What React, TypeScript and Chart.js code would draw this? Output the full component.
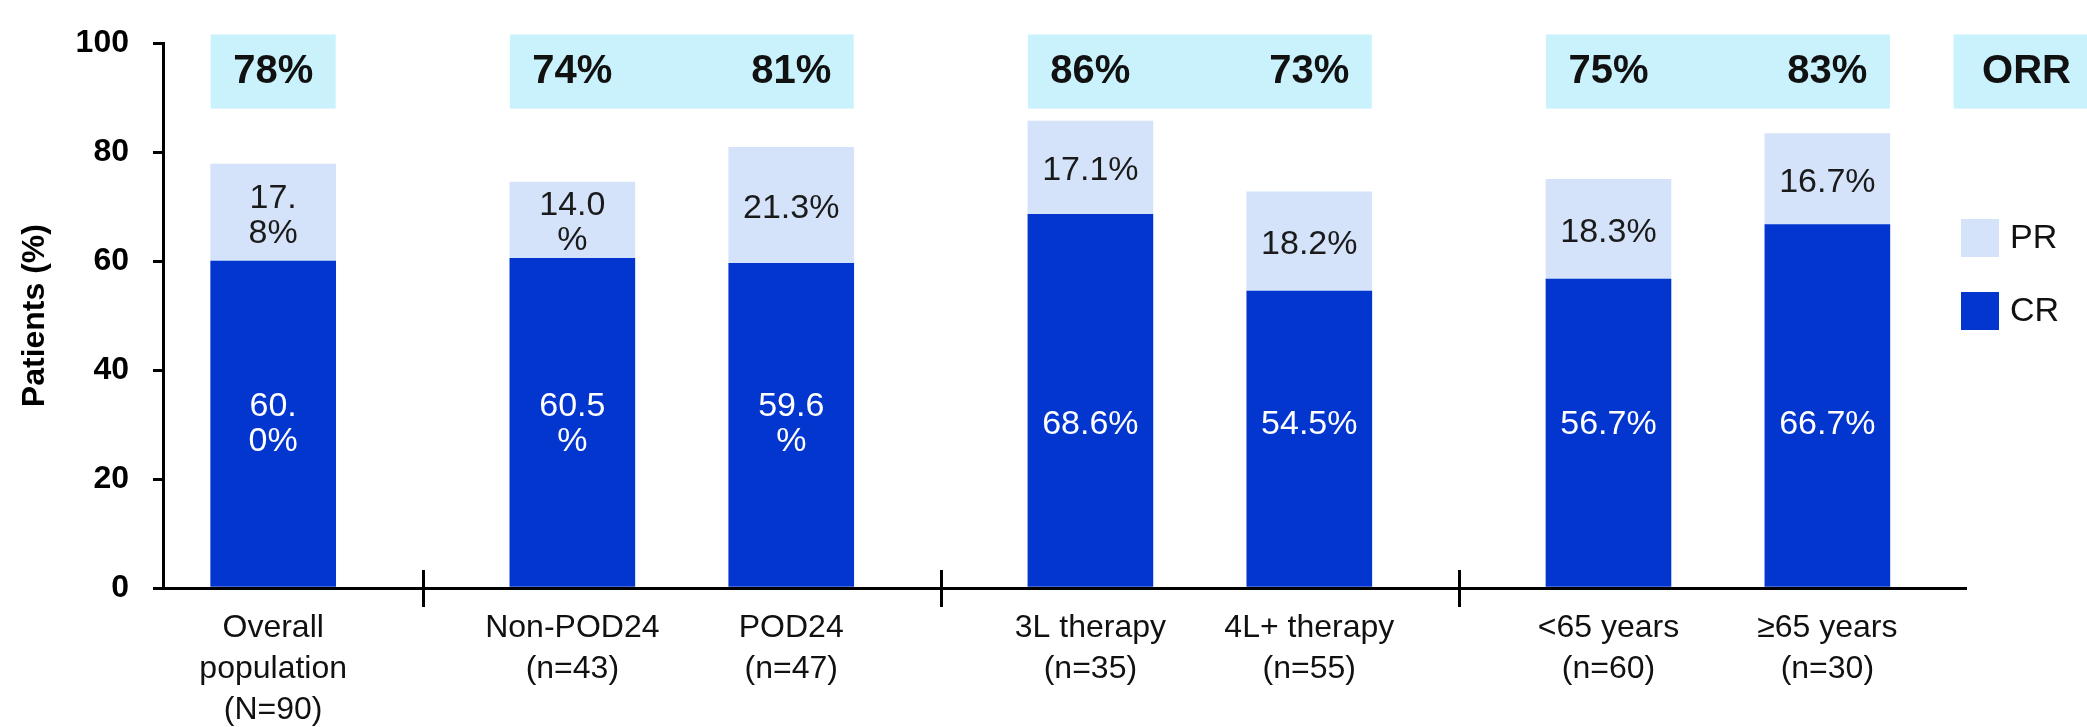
import React, { useEffect, useRef } from "react";
import { Chart, registerables } from "chart.js";

Chart.register(...registerables);

// ---------------- DATA ----------------
const categories: string[][] = [
  ["Overall", "population", "(N=90)"],
  ["Non-POD24", "(n=43)"],
  ["POD24", "(n=47)"],
  ["3L therapy", "(n=35)"],
  ["4L+ therapy", "(n=55)"],
  ["<65 years", "(n=60)"],
  ["≥65 years", "(n=30)"],
];
const groups: number[][] = [[0], [1, 2], [3, 4], [5, 6]];
const crValues = [60.0, 60.5, 59.6, 68.6, 54.5, 56.7, 66.7];
const prValues = [17.8, 14.0, 21.3, 17.1, 18.2, 18.3, 16.7];
const crLabels = ["60.\n0%", "60.5\n%", "59.6\n%", "68.6%", "54.5%", "56.7%", "66.7%"];
const prLabels = ["17.\n8%", "14.0\n%", "21.3%", "17.1%", "18.2%", "18.3%", "16.7%"];
const orrLabels = ["78%", "74%", "81%", "86%", "73%", "75%", "83%"];
const orrHeader = "ORR";
const yTitle = "Patients (%)";
const seriesNames = { cr: "CR", pr: "PR" };

// ---------------- LAYOUT / STYLE ----------------
const W = 2087;
const H = 727;
const FONT = "'Liberation Sans', Arial, Helvetica, sans-serif";
const CR_COLOR = "#0336cf";
const PR_COLOR = "#d4e3fa";
const ORR_BOX = "#c9f2fc";
const IN_GROUP_STEP = 3;
const GROUP_STEP = 4.1;
const X_MIN_PAD = 1.51;
const X_MAX_PAD = 1.9;
const BAR_W = 125;
const ORR_BOX_TOP = 101.6;
const ORR_BOX_BOTTOM = 88.0;
const CR_LABEL_AT = 30;

function groupOf(i: number) {
  return groups.findIndex((g) => g.includes(i));
}
const positions: number[] = [];
categories.forEach((_, i) => {
  if (i === 0) positions.push(0);
  else positions.push(positions[i - 1] + (groupOf(i) === groupOf(i - 1) ? IN_GROUP_STEP : GROUP_STEP));
});
const X_MIN = -X_MIN_PAD;
const X_MAX = positions[positions.length - 1] + X_MAX_PAD;
const ORR_HEADER_X = X_MAX + 0.83;

function drawLines(ctx: CanvasRenderingContext2D, text: string, x: number, cy: number, lh: number) {
  const lines = text.split("\n");
  const start = cy - ((lines.length - 1) * lh) / 2;
  lines.forEach((ln, k) => ctx.fillText(ln, x, start + k * lh));
}

const overlayPlugin = {
  id: "overlay",
  afterDatasetsDraw(chart: any) {
    const ctx: CanvasRenderingContext2D = chart.ctx;
    const xs = chart.scales.x;
    const ys = chart.scales.y;
    const crMeta = chart.getDatasetMeta(0);
    const prMeta = chart.getDatasetMeta(1);
    const area = chart.chartArea;
    ctx.save();

    // ORR boxes
    const bTop = ys.getPixelForValue(ORR_BOX_TOP);
    const bBot = ys.getPixelForValue(ORR_BOX_BOTTOM);
    const bMid = (bTop + bBot) / 2;
    ctx.fillStyle = ORR_BOX;
    groups.forEach((g) => {
      let l = Infinity;
      let r = -Infinity;
      g.forEach((i) => {
        const el = crMeta.data[i];
        l = Math.min(l, el.x - el.width / 2);
        r = Math.max(r, el.x + el.width / 2);
      });
      ctx.fillRect(l, bTop, r - l, bBot - bTop);
    });
    const hx = xs.getPixelForValue(ORR_HEADER_X);
    const hl = xs.getPixelForValue(ORR_HEADER_X - 1);
    ctx.fillRect(hl, bTop, chart.width - hl, bBot - bTop);

    ctx.fillStyle = "#111";
    ctx.font = `bold 40px ${FONT}`;
    ctx.textAlign = "center";
    ctx.textBaseline = "middle";
    orrLabels.forEach((t, i) => {
      ctx.fillText(t, crMeta.data[i].x, bMid);
    });
    ctx.fillText(orrHeader, hx, bMid);

    // bar labels
    ctx.font = `34px ${FONT}`;
    prLabels.forEach((t, i) => {
      const el = prMeta.data[i];
      ctx.fillStyle = "#1a1a1a";
      drawLines(ctx, t, el.x, (el.y + el.base) / 2 + 3, 35);
    });
    crLabels.forEach((t, i) => {
      const el = crMeta.data[i];
      ctx.fillStyle = "#ffffff";
      drawLines(ctx, t, el.x, ys.getPixelForValue(CR_LABEL_AT), 35);
    });

    // legend
    const items = [
      { name: seriesNames.pr, color: PR_COLOR },
      { name: seriesNames.cr, color: CR_COLOR },
    ];
    const lx = area.right - 5;
    ctx.font = `34px ${FONT}`;
    ctx.textAlign = "left";
    items.forEach((it, k) => {
      const cy = 238 + k * 73;
      ctx.fillStyle = it.color;
      ctx.fillRect(lx, cy - 19, 38, 38);
      ctx.fillStyle = "#111";
      ctx.fillText(it.name, lx + 49, cy + 1);
    });

    // group separators on the x axis
    ctx.strokeStyle = "#000";
    ctx.lineWidth = 3;
    for (let gi = 1; gi < groups.length; gi++) {
      const a = positions[groups[gi - 1][groups[gi - 1].length - 1]];
      const b = positions[groups[gi][0]];
      const px = Math.round(xs.getPixelForValue((a + b) / 2)) + 0.5;
      ctx.beginPath();
      ctx.moveTo(px, area.bottom - 18);
      ctx.lineTo(px, area.bottom + 19);
      ctx.stroke();
    }
    ctx.restore();
  },
};

export default function App() {
  const ref = useRef<HTMLCanvasElement | null>(null);
  useEffect(() => {
    document.body.style.margin = "0";
    const canvas = ref.current;
    if (!canvas) return;
    const chart = new Chart(canvas, {
      type: "bar",
      data: {
        datasets: [
          {
            label: seriesNames.cr,
            data: positions.map((x, i) => ({ x, y: crValues[i] })),
            backgroundColor: CR_COLOR,
            barThickness: BAR_W,
            borderWidth: 0,
          },
          {
            label: seriesNames.pr,
            data: positions.map((x, i) => ({ x, y: prValues[i] })),
            backgroundColor: PR_COLOR,
            barThickness: BAR_W,
            borderWidth: 0,
          },
        ],
      },
      options: {
        responsive: false,
        animation: false,
        devicePixelRatio: 1,
        layout: { padding: { top: 24, right: W - 1966, left: 0, bottom: 0 } },
        plugins: {
          legend: { display: false },
          tooltip: { enabled: false },
        },
        scales: {
          x: {
            type: "linear",
            offset: false,
            min: X_MIN,
            max: X_MAX,
            stacked: true,
            grid: { display: false, drawTicks: false, offset: false },
            border: { display: true, color: "#000", width: 3 },
            afterBuildTicks: (s: any) => {
              s.ticks = positions.map((v) => ({ value: v }));
            },
            afterFit: (s: any) => {
              s.height = H - 588;
            },
            ticks: {
              autoSkip: false,
              maxRotation: 0,
              minRotation: 0,
              padding: 20,
              color: "#111",
              font: { family: FONT, size: 32, lineHeight: 1.28 },
              callback: (_v: any, i: number) => categories[i],
            },
          },
          y: {
            min: 0,
            max: 100,
            stacked: true,
            grid: {
              drawOnChartArea: false,
              drawTicks: true,
              tickLength: 10,
              color: "#000",
              lineWidth: 3,
            },
            border: { display: true, color: "#000", width: 3 },
            afterFit: (s: any) => {
              s.width = 163;
            },
            ticks: {
              stepSize: 20,
              padding: 24,
              color: "#000",
              font: { family: FONT, size: 32, weight: "bold" },
            },
            title: {
              display: true,
              text: yTitle,
              color: "#000",
              padding: { top: 16, bottom: 0 },
              font: { family: FONT, size: 32, weight: "bold" },
            },
          },
        },
      } as any,
      plugins: [overlayPlugin],
    });
    return () => chart.destroy();
  }, []);
  return (
    <div style={{ width: W, height: H, background: "#fff" }}>
      <canvas ref={ref} width={W} height={H} style={{ display: "block" }} />
    </div>
  );
}
